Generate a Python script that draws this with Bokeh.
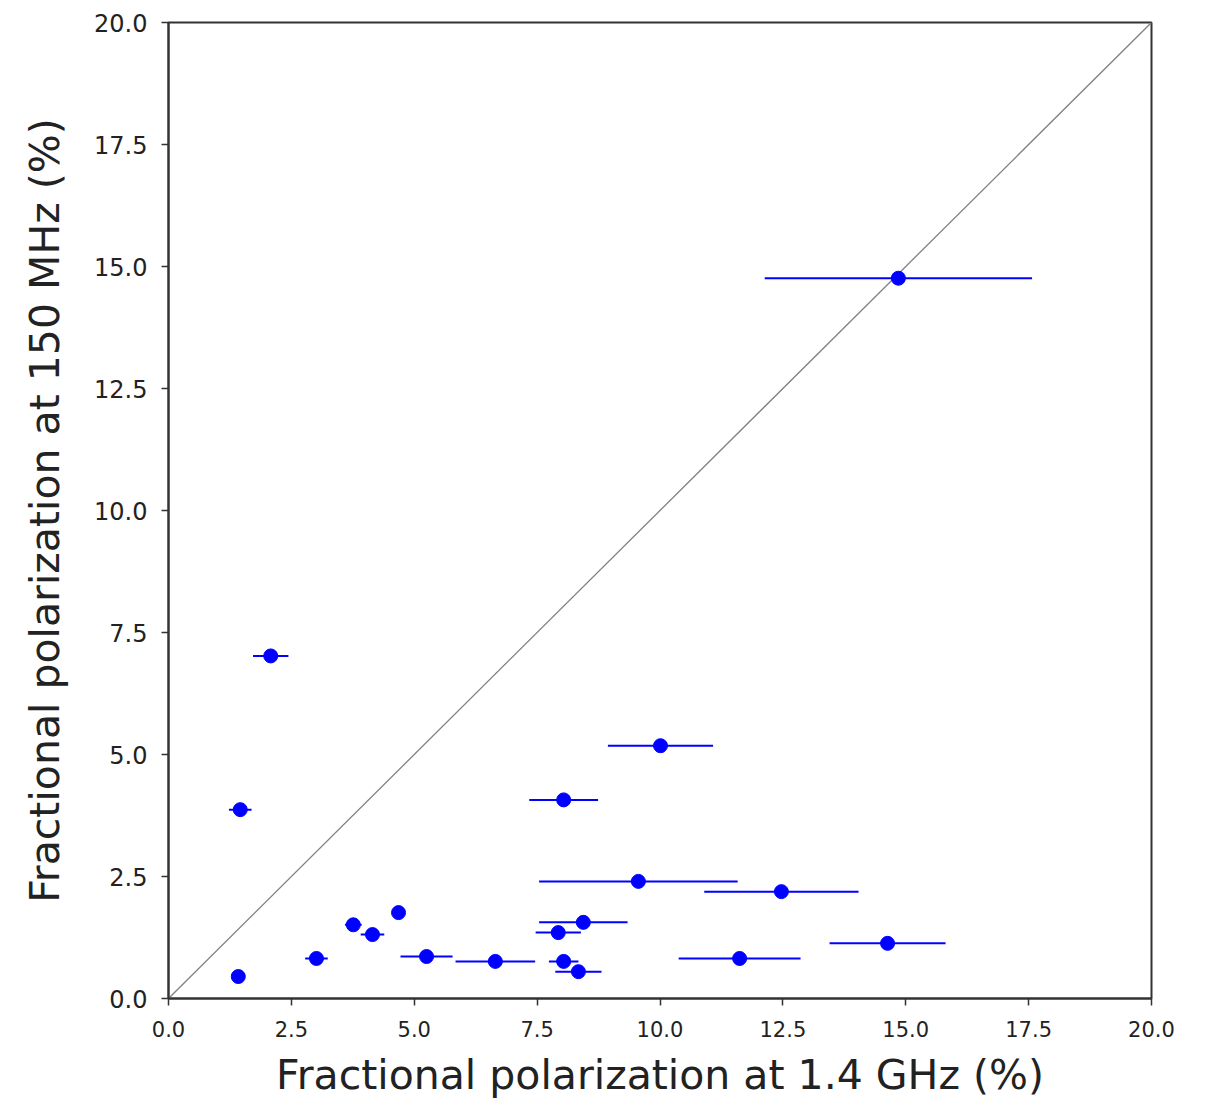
from bokeh.plotting import figure
from bokeh.models import FixedTicker, PrintfTickFormatter, Range1d
from bokeh.embed import file_html
from bokeh.resources import INLINE

# Fractional polarization data
pol_1400 = [14.85, 2.08, 1.46, 10.01, 8.04, 9.56, 12.47, 8.44, 7.93, 14.63,
            11.62, 8.04, 8.34, 6.65, 5.25, 3.01, 1.42, 3.76, 4.15, 4.68]
pol_150 = [14.76, 7.02, 3.87, 5.18, 4.07, 2.40, 2.19, 1.56, 1.35, 1.13,
           0.82, 0.76, 0.55, 0.76, 0.86, 0.82, 0.45, 1.51, 1.31, 1.76]
pol_1400_err = [2.72, 0.36, 0.23, 1.07, 0.70, 2.02, 1.57, 0.90, 0.46, 1.18,
                1.24, 0.30, 0.47, 0.81, 0.53, 0.23, 0.0, 0.17, 0.24, 0.0]
ticks = [0.0, 2.5, 5.0, 7.5, 10.0, 12.5, 15.0, 17.5, 20.0]
diag = [0.0, 20.0]

x_lo = [a - e for a, e in zip(pol_1400, pol_1400_err)]
x_hi = [a + e for a, e in zip(pol_1400, pol_1400_err)]

p = figure(width=1198, height=1101, output_backend="svg", toolbar_location=None,
           x_range=Range1d(0, 20), y_range=Range1d(0, 20),
           min_border_left=168, min_border_right=47, min_border_top=22, min_border_bottom=95)

p.grid.visible = False
p.background_fill_color = "white"
p.border_fill_color = "white"
p.outline_line_color = "#333333"
p.outline_line_width = 2

p.line(diag, diag, line_color="gray", line_width=1.3)
p.segment(x0=x_lo, y0=pol_150, x1=x_hi, y1=pol_150, line_color="blue", line_width=2)
p.scatter(pol_1400, pol_150, size=14, fill_color="blue", line_color="blue")

for ax in (p.xaxis[0], p.yaxis[0]):
    ax.ticker = FixedTicker(ticks=ticks)
    ax.formatter = PrintfTickFormatter(format="%.1f")
    ax.minor_tick_line_color = None
    ax.major_tick_in = 0
    ax.major_tick_out = 7
    ax.major_tick_line_width = 1.5
    ax.major_tick_line_color = "#333333"
    ax.axis_line_color = "#333333"
    ax.axis_line_width = 2
    ax.major_label_text_font = "DejaVu Sans"
    ax.major_label_text_color = "#222222"
    ax.axis_label_text_font = "DejaVu Sans"
    ax.axis_label_text_font_style = "normal"
    ax.axis_label_text_color = "#222222"
    ax.axis_label_text_font_size = "41px"

p.xaxis.axis_label = "Fractional polarization at 1.4 GHz (%)"
p.yaxis.axis_label = "Fractional polarization at 150 MHz (%)"
p.xaxis.major_label_text_font_size = "21px"
p.yaxis.major_label_text_font_size = "24px"
p.xaxis.major_label_standoff = 15
p.yaxis.major_label_standoff = 14
p.xaxis.axis_label_standoff = 11
p.yaxis.axis_label_standoff = 22

open("out.html", "w").write(file_html(p, INLINE))
